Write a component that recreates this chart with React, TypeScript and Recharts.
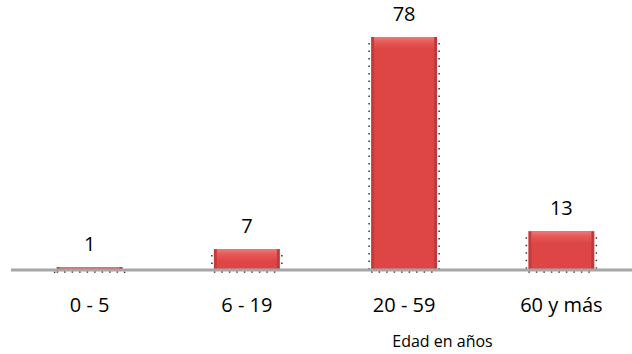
import { BarChart, Bar, XAxis, YAxis, LabelList, Label } from "recharts";

const categories = ["0 - 5", "6 - 19", "20 - 59", "60 y más"];
const values = [1, 7, 78, 13];
const axisTitle = "Edad en años";

const data = categories.map((name, i) => ({ name, value: values[i] }));

const FONT = "'Open Sans', 'Noto Sans', sans-serif";

// bar body: gradient fill, dotted sides
function BevelBar(props: any) {
  const { x, y, width, height } = props;
  if (height <= 0) return null;
  const dots = "1.5 6";
  const bevel = Math.min(12, height);
  return (
    <g>
      <rect x={x} y={y} width={width} height={height} fill="url(#barSide)" />
      <rect x={x + 3} y={y + 2} width={width - 6} height={height - 2} fill="#de4646" />
      <rect x={x + 3} y={y} width={width - 6} height={bevel} fill="url(#barTop)" />
      <line x1={x - 2} y1={y + 6} x2={x - 2} y2={y + height} stroke="#333" strokeWidth={1.5} strokeDasharray={dots} />
      <line x1={x + width + 2} y1={y + 6} x2={x + width + 2} y2={y + height} stroke="#333" strokeWidth={1.5} strokeDasharray={dots} />
      <line x1={x} y1={y + height + 2} x2={x + width} y2={y + height + 2} stroke="#333" strokeWidth={1.5} strokeDasharray={dots} />
    </g>
  );
}

export default function App() {
  return (
    <div style={{ position: "absolute", left: 0, top: 0, width: 632, height: 354, overflow: "hidden", background: "#fff" }}>
      <BarChart
        width={640}
        height={354}
        data={data}
        margin={{ top: 31, right: 0, left: 11, bottom: 34 }}
        barCategoryGap="29%"
      >
        <defs>
          <linearGradient id="barSide" x1="0" y1="0" x2="1" y2="0">
            <stop offset="0%" stopColor="#c43a3a" />
            <stop offset="50%" stopColor="#d44242" />
            <stop offset="100%" stopColor="#c03838" />
          </linearGradient>
          <linearGradient id="barTop" x1="0" y1="0" x2="0" y2="1">
            <stop offset="0%" stopColor="#ef7a7a" />
            <stop offset="40%" stopColor="#e65a5a" />
            <stop offset="100%" stopColor="#de4646" />
          </linearGradient>
        </defs>
        <YAxis hide domain={[0, 80]} />
        <XAxis
          dataKey="name"
          height={50}
          tickLine={false}
          tickSize={0}
          tickMargin={28}
          axisLine={{ stroke: "#a6a6a6", strokeWidth: 3 }}
          tick={{ fill: "#000", fontSize: 20, fontFamily: FONT }}
        >
          <Label
            value={axisTitle}
            position="bottom"
            offset={16}
            dx={117}
            style={{ fill: "#000", fontSize: 16, fontFamily: FONT }}
          />
        </XAxis>
        <Bar dataKey="value" shape={<BevelBar />} isAnimationActive={false}>
          <LabelList
            dataKey="value"
            position="top"
            offset={16}
            style={{ fill: "#000", fontSize: 20, fontFamily: FONT }}
          />
        </Bar>
      </BarChart>
    </div>
  );
}
